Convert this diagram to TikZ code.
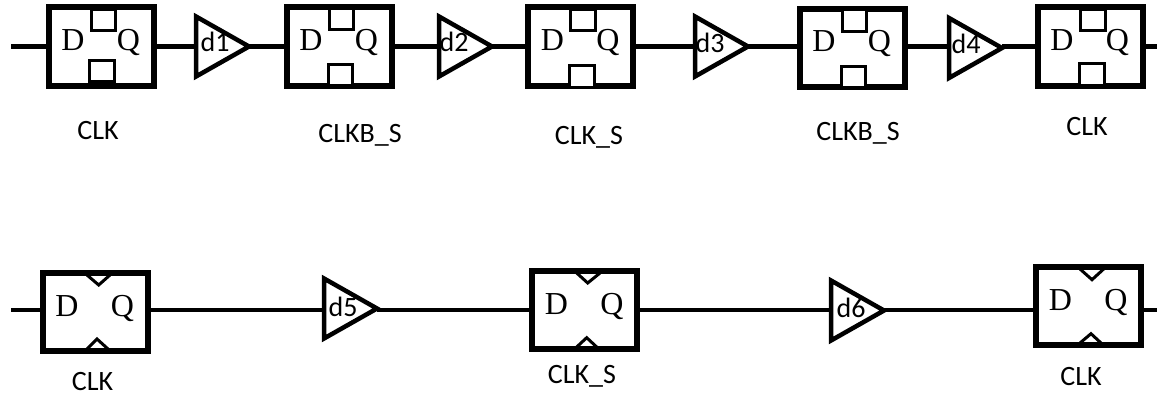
\documentclass[tikz,border=0pt]{standalone}
\usepackage{fontspec}
\setmainfont{Carlito}
\newfontfamily\ffserif{Liberation Serif}
\usetikzlibrary{shapes.geometric}
\tikzstyle{line} = [draw, line width=5pt]
\tikzstyle{thinline} = [draw, line width=4pt]
\tikzstyle{dq} = [inner sep=0pt, text height=22pt, text depth=0pt, yshift=7pt, font=\ffserif\fontsize{32}{32}\selectfont]
\tikzstyle{ff} = [draw, line width=6pt, minimum width=105pt, minimum height=78.5pt, inner sep=0pt,
  label={[dq,xshift=-28pt]center:D}, label={[dq,xshift=27.5pt]center:Q}]
\tikzstyle{buf} = [draw, line width=4.5pt, shape=isosceles triangle, isosceles triangle stretches, minimum width=60pt, minimum height=53pt, inner sep=0pt, outer sep=0pt, anchor=lower side]
\tikzstyle{dtext} = [inner sep=0pt, text height=20pt, text depth=0pt, font=\fontsize{28}{28}\selectfont]
\tikzstyle{clk} = [draw, line width=3pt, fill=white, minimum width=24.5pt, minimum height=21.5pt, inner sep=0pt]
\tikzstyle{notch} = [draw, line width=3pt]
\tikzstyle{clkname} = [inner sep=0pt, text height=18pt, text depth=0pt, font=\fontsize{28}{28}\selectfont]

\begin{document}
\begin{tikzpicture}[x=1pt,y=-1pt]
\useasboundingbox (0,0) rectangle (1157,393);
\coordinate (in1) at (11,46.5);
\coordinate (out1) at (1157,46.5);
\coordinate (in2) at (11,310);
\coordinate (out2) at (1157,310);
% upper row
\node (ff1) at (101,46.5) [ff] {};
\node (ff2) at (339,46.5) [ff] {};
\node (ff3) at (580.5,46.5) [ff] {};
\node (ff4) at (852,48) [ff] {};
\node (ff5) at (1090,46.5) [ff] {};
\node (b1) at (196,46.5) [buf] {};
\node (b2) at (439,46.5) [buf] {};
\node (b3) at (695,46.5) [buf] {};
\node (b4) at (949,48) [buf] {};
\node (d1) at (215,42) [dtext] {d1};
\node (d2) at (454,42) [dtext] {d2};
\node (d3) at (710,43) [dtext] {d3};
\node (d4) at (966,44) [dtext] {d4};
% clock pins
\node (c1t) at (103.5,20) [clk] {};
\node (c1b) at (102,71) [clk] {};
\node (c2t) at (341.5,19) [clk] {};
\node (c2b) at (340.5,75) [clk] {};
\node (c3t) at (583,20) [clk] {};
\node (c3b) at (582,76.5) [clk] {};
\node (c4t) at (854.5,20.5) [clk] {};
\node (c4b) at (853.5,77) [clk] {};
\node (c5t) at (1093,20) [clk] {};
\node (c5b) at (1092,74.5) [clk] {};
\node (n1) at (98,131) [clkname] {CLK};
\node (n2) at (360,134) [clkname] {CLKB\_S};
\node (n3) at (589,136) [clkname] {CLK\_S};
\node (n4) at (858,132) [clkname] {CLKB\_S};
\node (n5) at (1087,127) [clkname] {CLK};
% lower row
\node (ff6) at (95,312) [ff] {};
\node (ff7) at (584.5,310) [ff] {};
\node (ff8) at (1088.5,306) [ff] {};
\node (b5) at (324,308.5) [buf] {};
\node (b6) at (831,310.5) [buf] {};
\node (d5) at (343,306) [dtext] {d5};
\node (d6) at (851,307) [dtext] {d6};
\path [notch] (87,275) -- (98.7,285) -- (110,275);
\path [notch] (87,349) -- (97,339) -- (108,349);
\path [notch] (576.7,273) -- (587.7,283) -- (600,273);
\path [notch] (576.7,347) -- (586.7,337.7) -- (596.7,347);
\path [notch] (1080,269) -- (1092,279.7) -- (1103.7,269);
\path [notch] (1080,343) -- (1091,333.7) -- (1101,343);
\node (n6) at (92.5,381) [clkname] {CLK};
\node (n7) at (582,374) [clkname] {CLK\_S};
\node (n8) at (1081,376) [clkname] {CLK};
% draw lines
\path [line] (in1) -- (ff1);
\path [line] (ff1) -- (b1);
\path [line] (b1) -- (ff2);
\path [line] (ff2) -- (b2);
\path [line] (b2) -- (ff3);
\path [line] (ff3) -- (b3);
\path [line] (b3) -- (in1 -| ff4.west);
\path [line] (in1 -| ff4.east) -- (in1 -| b4.lower side);
\path [line] (in1 -| b4.apex) -- (ff5);
\path [line] (ff5) -- (out1);
\path [thinline] (in2) -- (in2 -| ff6.west);
\path [thinline] (in2 -| ff6.east) -- (in2 -| b5.lower side);
\path [thinline] (in2 -| b5.apex) -- (ff7);
\path [thinline] (ff7) -- (in2 -| b6.lower side);
\path [thinline] (in2 -| b6.apex) -- (in2 -| ff8.west);
\path [thinline] (in2 -| ff8.east) -- (out2);
\end{tikzpicture}
\end{document}
